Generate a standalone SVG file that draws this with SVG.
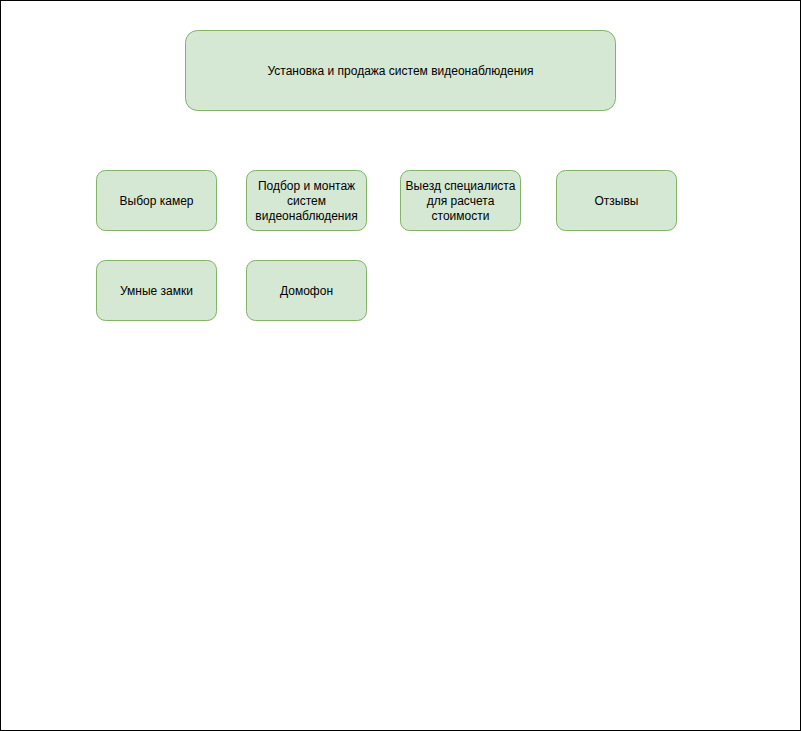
<svg xmlns="http://www.w3.org/2000/svg" width="801" height="731" viewBox="0 0 801 731">
<style>
.n{fill:#d5e8d4;stroke:#82b366;stroke-width:1}
.t{font-family:"Liberation Sans",Arial,sans-serif;font-size:12px;fill:#000;text-anchor:middle;dominant-baseline:central}
</style>
<rect x="0.5" y="0.5" width="800" height="730" fill="#fff" stroke="#000" stroke-width="1"/>
<g id="connectors"></g>
<g id="n0"><rect class="n" x="185.5" y="30.5" width="430" height="80" rx="12" ry="12"/><text class="t" x="400.5" y="70.5">Установка и продажа систем видеонаблюдения</text></g>
<g id="n1"><rect class="n" x="96.5" y="170.5" width="120" height="60" rx="9" ry="9"/><text class="t" x="156.5" y="200.5">Выбор камер</text></g>
<g id="n2"><rect class="n" x="246.5" y="170.5" width="120" height="60" rx="9" ry="9"/><text class="t" x="306.5" y="185.5">Подбор и монтаж</text><text class="t" x="306.5" y="200.5">систем</text><text class="t" x="306.5" y="215.5">видеонаблюдения</text></g>
<g id="n3"><rect class="n" x="400.5" y="170.5" width="120" height="60" rx="9" ry="9"/><text class="t" x="460.5" y="185.5">Выезд специалиста</text><text class="t" x="460.5" y="200.5">для расчета</text><text class="t" x="460.5" y="215.5">стоимости</text></g>
<g id="n4"><rect class="n" x="556.5" y="170.5" width="120" height="60" rx="9" ry="9"/><text class="t" x="616.5" y="200.5">Отзывы</text></g>
<g id="n5"><rect class="n" x="96.5" y="260.5" width="120" height="60" rx="9" ry="9"/><text class="t" x="156.5" y="290.5">Умные замки</text></g>
<g id="n6"><rect class="n" x="246.5" y="260.5" width="120" height="60" rx="9" ry="9"/><text class="t" x="306.5" y="290.5">Домофон</text></g>
</svg>
